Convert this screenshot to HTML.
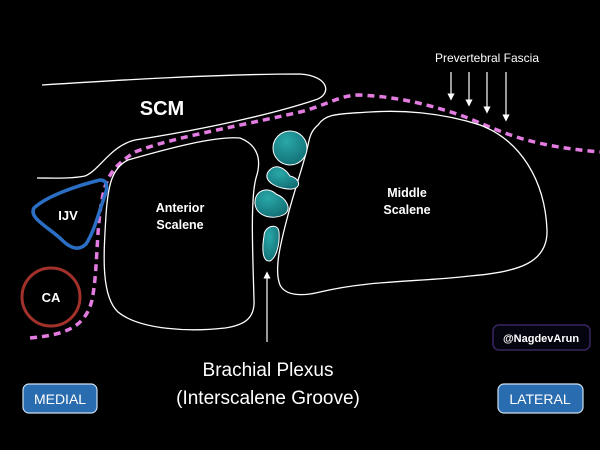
<!DOCTYPE html>
<html><head><style>
html,body{margin:0;padding:0;background:#000;}
svg{display:block;}
text{font-family:"Liberation Sans",sans-serif;}
</style></head><body>
<svg width="600" height="450" viewBox="0 0 600 450" xmlns="http://www.w3.org/2000/svg">
<rect width="600" height="450" fill="#000"/>
<defs>
<radialGradient id="tg" cx="0.4" cy="0.3" r="0.8">
<stop offset="0" stop-color="#2aa8aa"/><stop offset="1" stop-color="#106b70"/>
</radialGradient>
<marker id="ah" markerWidth="6" markerHeight="6" refX="3" refY="3" orient="auto">
<path d="M0,0 L6,3 L0,6 Z" fill="#fff"/></marker>
</defs>
<!-- SCM -->
<path d="M42,85 C120,80 220,74 300,74 C330,76 332,95 315,100 C270,115 200,130 135,140 C110,146 100,170 85,176 C70,179 50,178 37,178" fill="none" stroke="#fff" stroke-width="1.3"/>
<!-- fascia dashed -->
<path d="M30,338 C60,335 85,330 92,300 C98,270 96,230 102,200 C106,175 115,165 135,152 C170,138 230,128 300,112 C330,104 340,95 360,95 C400,97 430,105 460,115 C500,130 520,145 600,152" fill="none" stroke="#e27ce0" stroke-width="3.5" stroke-dasharray="7,5"/>
<!-- anterior scalene -->
<path d="M128,160 C170,148 215,136 240,138 C258,145 262,160 256,178 C250,200 253,260 254,300 C255,318 245,325 225,328 C190,332 140,330 118,312 C100,295 104,250 106,215 C108,185 112,168 128,160 Z" fill="none" stroke="#fff" stroke-width="1.3"/>
<!-- middle scalene incl. groove right edge -->
<path d="M318,125 C326,113 340,114 370,112 C400,110 440,112 480,125 C520,140 545,180 547,230 C548,262 520,272 470,276 C420,282 370,280 320,292 C300,297 285,295 280,285 C274,270 280,245 288,215 C296,185 305,160 308,145 C310,135 312,130 318,125 Z" fill="none" stroke="#fff" stroke-width="1.3"/>
<!-- teal nodes -->
<circle cx="290" cy="148" r="17" fill="url(#tg)" stroke="#fff" stroke-width="1"/>
<path d="M268,172 C275,162 285,168 290,176 C300,178 302,188 292,189 C280,190 262,182 268,172 Z" fill="url(#tg)" stroke="#fff" stroke-width="1"/>
<path d="M255,204 C254,190 268,186 276,194 C286,198 292,208 285,214 C275,220 257,218 255,204 Z" fill="url(#tg)" stroke="#fff" stroke-width="1"/>
<path d="M264,236 C264,226 278,222 279,232 C280,245 276,258 270,261 C262,262 262,248 264,236 Z" fill="url(#tg)" stroke="#fff" stroke-width="1"/>
<!-- IJV -->
<path d="M34,208 C48,195 80,185 100,180 C108,180 108,188 104,198 C98,215 94,232 86,244 C80,250 72,250 62,240 C50,228 28,218 34,208 Z" fill="none" stroke="#2b6fc4" stroke-width="3.5"/>
<text x="68" y="220" fill="#fff" font-size="13" font-weight="bold" text-anchor="middle">IJV</text>
<!-- CA -->
<circle cx="51" cy="297" r="29" fill="none" stroke="#a3312b" stroke-width="3"/>
<text x="51" y="302" fill="#fff" font-size="13" font-weight="bold" text-anchor="middle">CA</text>
<text x="162" y="115" fill="#fff" font-size="20" font-weight="bold" text-anchor="middle">SCM</text>
<text x="180" y="212" fill="#fff" font-size="12.5" font-weight="bold" text-anchor="middle">Anterior</text>
<text x="180" y="229" fill="#fff" font-size="12.5" font-weight="bold" text-anchor="middle">Scalene</text>
<text x="407" y="197" fill="#fff" font-size="12.5" font-weight="bold" text-anchor="middle">Middle</text>
<text x="407" y="214" fill="#fff" font-size="12.5" font-weight="bold" text-anchor="middle">Scalene</text>
<text x="487" y="62" fill="#fff" font-size="12" text-anchor="middle">Prevertebral Fascia</text>
<g stroke="#fff" stroke-width="1.2" marker-end="url(#ah)">
<line x1="451" y1="72" x2="451" y2="97"/>
<line x1="469" y1="72" x2="469" y2="103"/>
<line x1="487" y1="72" x2="487" y2="110"/>
<line x1="506" y1="72" x2="506" y2="118"/>
<line x1="267" y1="342" x2="267" y2="275"/>
</g>
<text x="268" y="376" fill="#fff" font-size="19" text-anchor="middle">Brachial Plexus</text>
<text x="268" y="404" fill="#fff" font-size="19" text-anchor="middle">(Interscalene Groove)</text>
<rect x="23" y="384" width="74" height="29" rx="6" fill="#2a6cb0" stroke="#cfe0f0" stroke-width="1.2"/>
<text x="60" y="404" fill="#fff" font-size="14" text-anchor="middle">MEDIAL</text>
<rect x="498" y="384" width="85" height="29" rx="6" fill="#2a6cb0" stroke="#cfe0f0" stroke-width="1.2"/>
<text x="540" y="404" fill="#fff" font-size="14" text-anchor="middle">LATERAL</text>
<rect x="493" y="325" width="97" height="25" rx="6" fill="#050510" stroke="#3a2560" stroke-width="1.5"/>
<text x="541" y="342" fill="#fff" font-size="11" font-weight="bold" text-anchor="middle">@NagdevArun</text>
</svg>
</body></html>
